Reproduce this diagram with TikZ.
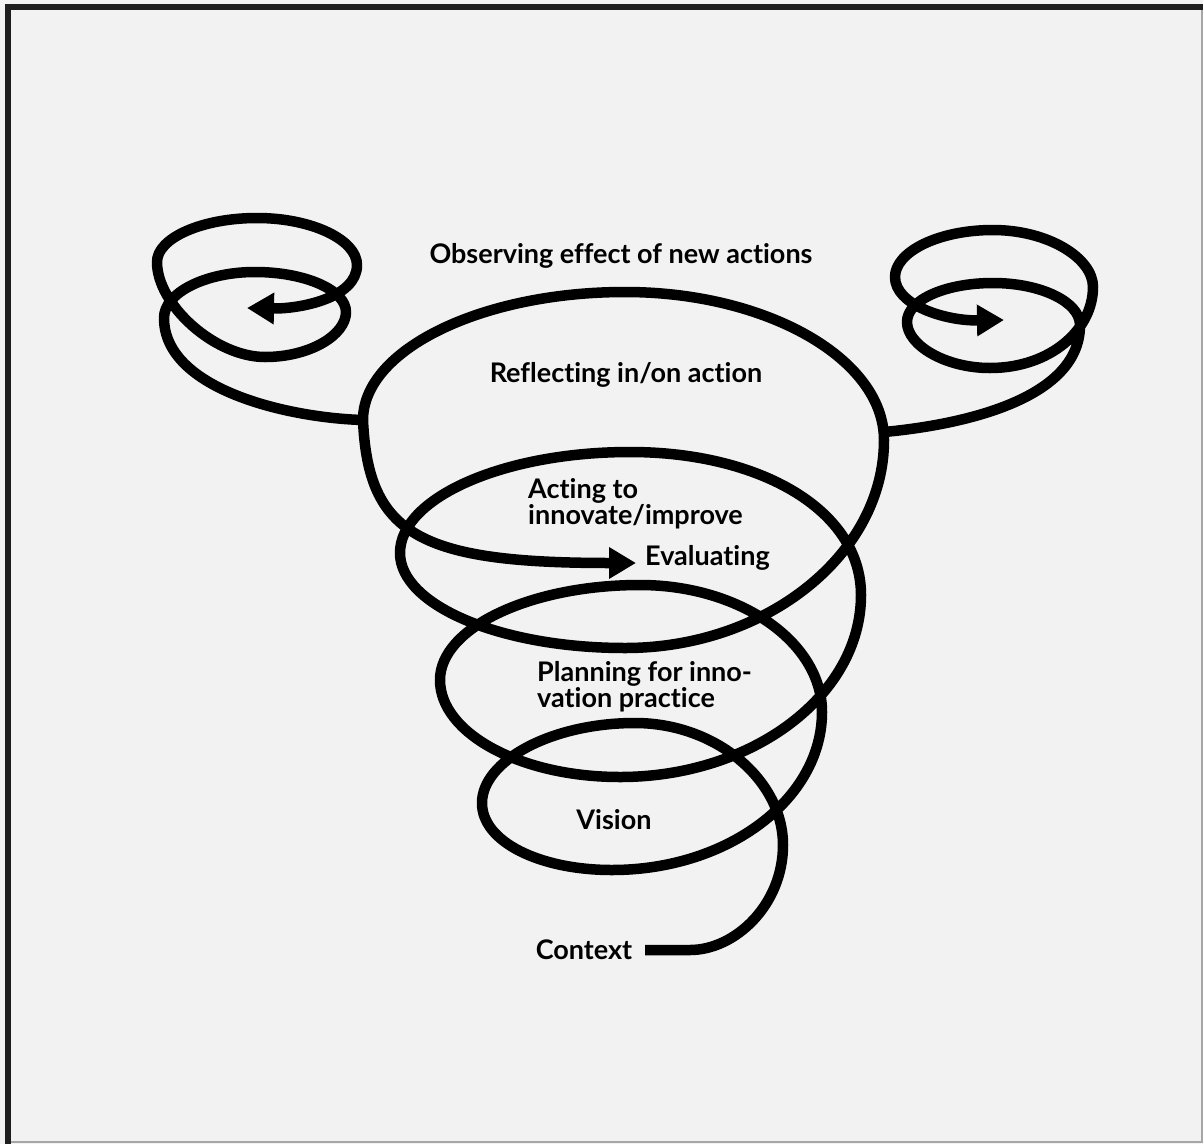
\documentclass[tikz,border=0pt]{standalone}
\usepackage{fontspec}
\setmainfont{Lato}[Ligatures=NoCommon]
\usetikzlibrary{arrows.meta}
\definecolor{paper}{HTML}{F2F2F2}
\definecolor{rim}{HTML}{1E1E1E}

\begin{document}
\begin{tikzpicture}[x=1pt,y=-1pt,>={Triangle[length=27pt,width=30pt]},
  font=\fontsize{27}{24}\selectfont\bfseries,
  coil/.style={line width=10.5pt,line join=round},
  lbl/.style={inner sep=0pt,align=left}]
  % sheet and frame
  \useasboundingbox (0,0) rectangle (1203,1144);
  \fill[paper] (0,0) rectangle (1203,1144);
  \fill[rim] (5,4) rectangle (11,1144);
  \fill[rim] (5,4) rectangle (1203,10);
  \draw[gray!70,line width=1.5pt] (1202,10) -- (1202,1142) -- (11,1142);

  % labels
  \node[lbl] (observe) at (621,256) {Observing effect of new actions};
  \node[lbl] (reflect) at (626,375) {Reflecting in/on action};
  \node[lbl,anchor=west] (acting) at (528,504) {Acting to\\innovate/improve};
  \node[lbl,anchor=west] (evaluate) at (645,558) {Evaluating};
  \node[lbl,anchor=west] (planning) at (537,687) {Planning for inno-\\vation practice};
  \node[lbl] (vision) at (614,820) {Vision};
  \node[lbl] (context) at (584,950) {Context};

  \coordinate (bigleft) at (363,420);
  \coordinate (bigright) at (884,432);

  % main spiral, from context up to evaluating
  \draw[coil,->] (645,950) -- (690,950)
    .. controls (735,950) and (783,905) .. (783,845)
    .. controls (783,780) and (716,723) .. (635,723)
    .. controls (551,723) and (482,761) .. (482,803)
    .. controls (482,842) and (540,870) .. (612,870)
    .. controls (728,870) and (822,799) .. (822,712)
    .. controls (822,642) and (740,585) .. (640,585)
    .. controls (530,585) and (440,628) .. (440,680)
    .. controls (440,733) and (520,777) .. (620,777)
    .. controls (753,777) and (861,695) .. (861,595)
    .. controls (861,510) and (760,452) .. (630,452)
    .. controls (503,452) and (400,498) .. (400,553)
    .. controls (400,605) and (500,648) .. (625,648)
    .. controls (767,648) and (884,554) .. (884,440)
    .. controls (884,359) and (767,292) .. (625,292)
    .. controls (481,292) and (363,350) .. (bigleft)
    .. controls (368,535) and (420,563) .. (636,563);

  % left coil
  \draw[coil,->] (bigleft)
    .. controls (290,418) and (164,390) .. (164,318)
    .. controls (164,293) and (205,272) .. (255,272)
    .. controls (305,272) and (346,290) .. (346,312)
    .. controls (346,335) and (310,357) .. (265,357)
    .. controls (215,357) and (157,305) .. (157,262)
    .. controls (157,238) and (202,218) .. (257,218)
    .. controls (312,218) and (357,240) .. (357,265)
    .. controls (357,298) and (300,309) .. (247,308);

  % right coil
  \draw[coil,->] (bigright)
    .. controls (960,425) and (1080,400) .. (1080,325)
    .. controls (1080,302) and (1041,283) .. (993,283)
    .. controls (945,283) and (907,300) .. (907,322)
    .. controls (907,345) and (945,368) .. (990,368)
    .. controls (1050,368) and (1093,330) .. (1093,287)
    .. controls (1093,258) and (1048,230) .. (993,230)
    .. controls (938,230) and (895,252) .. (895,277)
    .. controls (895,305) and (945,321) .. (1004,320);
\end{tikzpicture}
\end{document}
